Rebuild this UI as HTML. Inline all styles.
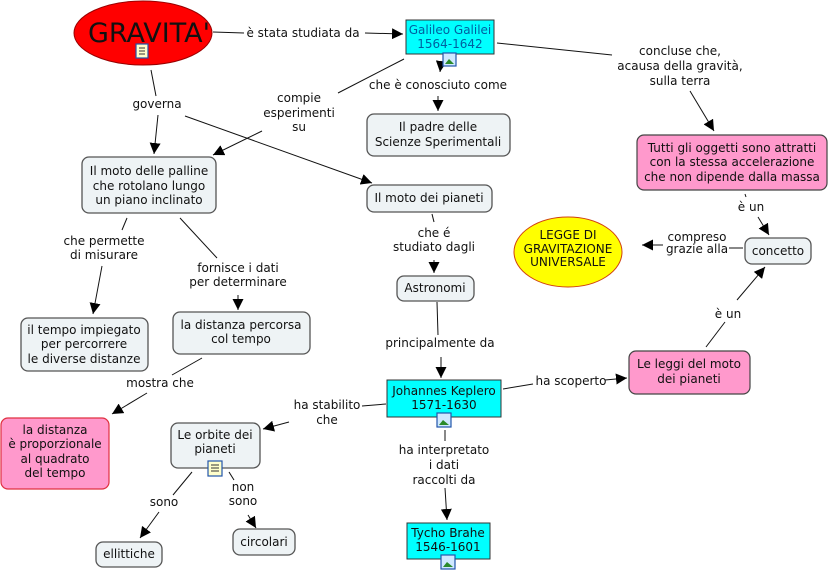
<!DOCTYPE html>
<html><head><meta charset="utf-8"><style>
html,body{margin:0;padding:0;background:#fff;}
svg{display:block;font-family:"DejaVu Sans","Liberation Sans",sans-serif;font-size:12px;}
text{fill:#111;}
.n{fill:#eef3f5;stroke:#555;stroke-width:1.3;}
.c{fill:#00ffff;stroke:#333;stroke-width:1;}
.p{fill:#ff99cc;stroke:#444;stroke-width:1.2;}
.l{stroke:#111;stroke-width:1;fill:none;}
.a{stroke:#111;stroke-width:1;fill:none;marker-end:url(#ar);}
</style></head><body>
<svg width="829" height="575" viewBox="0 0 829 575" xmlns="http://www.w3.org/2000/svg">
<defs><marker id="ar" viewBox="0 0 10 10" refX="10" refY="5" markerWidth="11" markerHeight="11" markerUnits="userSpaceOnUse" orient="auto"><path d="M0,0L10,5L0,10z" fill="#000"/></marker></defs>

<line class="l" x1="213" y1="32" x2="244" y2="33"/>
<line class="a" x1="365" y1="33" x2="403" y2="34"/>
<line class="l" x1="151" y1="70" x2="156" y2="96"/>
<line class="a" x1="158" y1="115" x2="154" y2="154"/>
<line class="a" x1="185" y1="116" x2="372" y2="183"/>
<line class="l" x1="404" y1="59" x2="338" y2="93"/>
<line class="a" x1="262" y1="131" x2="213" y2="155"/>
<line class="a" x1="441" y1="64" x2="440" y2="72"/>
<line class="a" x1="438" y1="96" x2="438" y2="111"/>
<line class="l" x1="497" y1="43" x2="612" y2="55"/>
<line class="a" x1="690" y1="91" x2="714" y2="131"/>
<line class="l" x1="745" y1="194" x2="746" y2="197"/>
<line class="a" x1="758" y1="217" x2="769" y2="235"/>
<line class="l" x1="743" y1="248" x2="729" y2="248"/>
<line class="a" x1="663" y1="245" x2="642" y2="245"/>
<line class="l" x1="706" y1="347" x2="725" y2="322"/>
<line class="a" x1="737" y1="300" x2="765" y2="267"/>
<line class="l" x1="503" y1="389" x2="533" y2="384"/>
<line class="a" x1="605" y1="380" x2="627" y2="378"/>
<line class="l" x1="386" y1="404" x2="362" y2="406"/>
<line class="a" x1="289" y1="422" x2="263" y2="429"/>
<line class="l" x1="445" y1="430" x2="445" y2="441"/>
<line class="a" x1="445" y1="488" x2="447" y2="520"/>
<line class="l" x1="437" y1="302" x2="438" y2="335"/>
<line class="a" x1="441" y1="357" x2="441" y2="378"/>
<line class="l" x1="432" y1="214" x2="434" y2="222"/>
<line class="a" x1="434" y1="260" x2="434" y2="273"/>
<line class="l" x1="127" y1="218" x2="122" y2="230"/>
<line class="a" x1="102" y1="266" x2="93" y2="314"/>
<line class="l" x1="180" y1="218" x2="217" y2="258"/>
<line class="a" x1="238" y1="295" x2="238" y2="310"/>
<line class="l" x1="202" y1="358" x2="172" y2="375"/>
<line class="a" x1="147" y1="393" x2="112" y2="414"/>
<line class="l" x1="192" y1="472" x2="173" y2="495"/>
<line class="a" x1="159" y1="512" x2="140" y2="538"/>
<line class="l" x1="229" y1="472" x2="234" y2="480"/>
<line class="a" x1="248" y1="515" x2="256" y2="528"/>

<g text-anchor="middle">
<text x="303" y="37">è stata studiata da</text>
<text x="157" y="108">governa</text>
<text x="299" y="102">compie</text><text x="299" y="117">esperimenti</text><text x="299" y="131">su</text>
<text x="438" y="89">che è conosciuto come</text>
<text x="680" y="55">concluse che,</text><text x="680" y="70">acausa della gravità,</text><text x="680" y="85">sulla terra</text>
<text x="751" y="211">è un</text>
<text x="697" y="241">compreso</text><text x="697" y="253">grazie alla</text>
<text x="728" y="318">è un</text>
<text x="571" y="385">ha scoperto</text>
<text x="327" y="409">ha stabilito</text><text x="327" y="424">che</text>
<text x="444" y="454">ha interpretato</text><text x="444" y="469">i dati</text><text x="444" y="484">raccolti da</text>
<text x="440" y="347">principalmente da</text>
<text x="434" y="237">che é</text><text x="434" y="251">studiato dagli</text>
<text x="104" y="245">che permette</text><text x="104" y="259">di misurare</text>
<text x="238" y="272">fornisce i dati</text><text x="238" y="286">per determinare</text>
<text x="160" y="387">mostra che</text>
<text x="164" y="506">sono</text>
<text x="243" y="491">non</text><text x="243" y="505">sono</text>
</g>

<ellipse cx="143" cy="33" rx="69" ry="32" fill="#ff0000" stroke="#900" stroke-width="1"/>
<text x="149" y="42" text-anchor="middle" style="font-size:27px" fill="#111">GRAVITA'</text>
<rect x="136" y="44" width="12" height="14" fill="#ffffcc" stroke="#2255aa" stroke-width="1.2"/>
<path d="M139,48h6M139,51h6M139,54h6" stroke="#333" stroke-width="1"/>

<rect class="c" x="406" y="20" width="88" height="34"/>
<text x="450" y="34" text-anchor="middle" style="fill:#0060a0">Galileo Galilei</text>
<text x="450" y="48" text-anchor="middle" style="fill:#0060a0">1564-1642</text>
<rect x="443" y="53" width="13" height="13" fill="#cfe8ff" stroke="#2255aa" stroke-width="1.2"/><path d="M445,64l4-5l5,5z" fill="#2a8a2a"/>

<rect class="n" x="367" y="114" width="143" height="42" rx="7"/>
<text x="438" y="131" text-anchor="middle">Il padre delle</text><text x="438" y="146" text-anchor="middle">Scienze Sperimentali</text>

<rect class="n" x="82" y="157" width="134" height="56" rx="7"/>
<text x="149" y="175" text-anchor="middle">Il moto delle palline</text><text x="149" y="190" text-anchor="middle">che rotolano lungo</text><text x="149" y="204" text-anchor="middle">un piano inclinato</text>

<rect class="n" x="367" y="185" width="125" height="27" rx="7"/>
<text x="429" y="202" text-anchor="middle">Il moto dei pianeti</text>

<rect class="p" x="637" y="135" width="190" height="55" rx="7"/>
<text x="732" y="152" text-anchor="middle">Tutti gli oggetti sono attratti</text><text x="732" y="166" text-anchor="middle">con la stessa accelerazione</text><text x="732" y="181" text-anchor="middle">che non dipende dalla massa</text>

<ellipse cx="568" cy="252" rx="54" ry="35" fill="#ffff00" stroke="#d04010" stroke-width="1"/>
<g text-anchor="middle"><text x="568" y="239" fill="#e02000">LEGGE DI</text><text x="568" y="253" fill="#e02000">GRAVITAZIONE</text><text x="568" y="266" fill="#e02000">UNIVERSALE</text></g>

<rect class="n" x="745" y="238" width="66" height="26" rx="7"/>
<text x="778" y="255" text-anchor="middle">concetto</text>

<rect class="n" x="397" y="276" width="77" height="25" rx="7"/>
<text x="435" y="292" text-anchor="middle">Astronomi</text>

<rect class="n" x="21" y="318" width="127" height="53" rx="7"/>
<text x="84" y="334" text-anchor="middle">il tempo impiegato</text><text x="84" y="348" text-anchor="middle">per percorrere</text><text x="84" y="363" text-anchor="middle">le diverse distanze</text>

<rect class="n" x="173" y="312" width="137" height="42" rx="7"/>
<text x="241" y="329" text-anchor="middle">la distanza percorsa</text><text x="241" y="343" text-anchor="middle">col tempo</text>

<rect x="1" y="418" width="108" height="71" rx="7" fill="#ff99cc" stroke="#e03040" stroke-width="1.2"/>
<g text-anchor="middle"><text x="55" y="434" fill="#7030a0">la distanza</text><text x="55" y="448" fill="#7030a0">è proporzionale</text><text x="55" y="463" fill="#7030a0">al quadrato</text><text x="55" y="477" fill="#7030a0">del tempo</text></g>

<rect class="c" x="387" y="380" width="114" height="37"/>
<text x="444" y="395" text-anchor="middle">Johannes Keplero</text><text x="444" y="409" text-anchor="middle">1571-1630</text>
<rect x="437" y="413" width="14" height="14" fill="#cfe8ff" stroke="#2255aa" stroke-width="1.2"/><path d="M439,425l4-5l6,5z" fill="#2a8a2a"/>

<rect class="p" x="629" y="351" width="121" height="43" rx="7"/>
<text x="689" y="368" text-anchor="middle">Le leggi del moto</text><text x="689" y="383" text-anchor="middle">dei pianeti</text>

<rect class="n" x="171" y="423" width="89" height="45" rx="7"/>
<text x="215" y="439" text-anchor="middle">Le orbite dei</text><text x="215" y="453" text-anchor="middle">pianeti</text>
<rect x="208" y="461" width="14" height="15" fill="#ffffcc" stroke="#2255aa" stroke-width="1.2"/>
<path d="M211,465h8M211,468h8M211,471h8" stroke="#333" stroke-width="1"/>

<rect class="n" x="96" y="542" width="66" height="25" rx="7"/>
<text x="129" y="558" text-anchor="middle">ellittiche</text>

<rect class="n" x="233" y="529" width="62" height="26" rx="7"/>
<text x="264" y="546" text-anchor="middle">circolari</text>

<rect class="c" x="407" y="523" width="83" height="36"/>
<text x="448" y="537" text-anchor="middle">Tycho Brahe</text><text x="448" y="551" text-anchor="middle">1546-1601</text>
<rect x="441" y="555" width="14" height="14" fill="#cfe8ff" stroke="#2255aa" stroke-width="1.2"/><path d="M443,567l4-5l6,5z" fill="#2a8a2a"/>
</svg>
</body></html>
